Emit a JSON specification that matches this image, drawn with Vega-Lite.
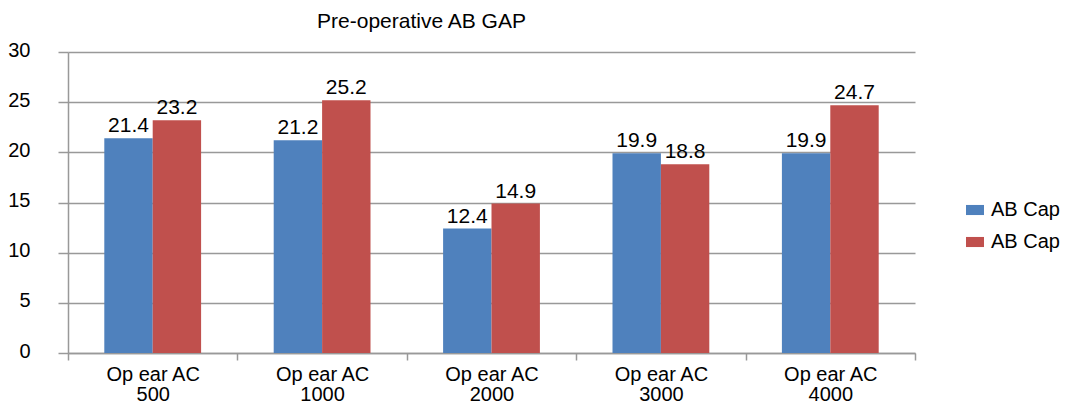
{
  "$schema": "https://vega.github.io/schema/vega-lite/v6.json",
  "autosize": {"type": "none"},
  "padding": {"left": 68, "top": 52, "right": 155, "bottom": 56},
  "width": 847,
  "height": 301,
  "background": "white",
  "title": {
    "text": "Pre-operative AB GAP",
    "font": "Liberation Sans",
    "fontSize": 21,
    "fontWeight": "normal",
    "color": "black",
    "anchor": "middle",
    "frame": "group",
    "dx": -70,
    "offset": 8
  },
  "config": {
    "view": {"stroke": null},
    "text": {"font": "Liberation Sans"}
  },
  "data": {
    "values": [
      {"freq": "500", "series": "a", "value": 21.4},
      {"freq": "500", "series": "b", "value": 23.2},
      {"freq": "1000", "series": "a", "value": 21.2},
      {"freq": "1000", "series": "b", "value": 25.2},
      {"freq": "2000", "series": "a", "value": 12.4},
      {"freq": "2000", "series": "b", "value": 14.9},
      {"freq": "3000", "series": "a", "value": 19.9},
      {"freq": "3000", "series": "b", "value": 18.8},
      {"freq": "4000", "series": "a", "value": 19.9},
      {"freq": "4000", "series": "b", "value": 24.7}
    ]
  },
  "encoding": {
    "x": {
      "field": "freq",
      "type": "nominal",
      "sort": ["500", "1000", "2000", "3000", "4000"],
      "scale": {"paddingInner": 0, "paddingOuter": 0},
      "axis": {
        "title": null,
        "labelAngle": 0,
        "labelExpr": "datum.label ? ['Op ear AC', datum.label] : ''",
        "labelFont": "Liberation Sans",
        "labelFontSize": 20,
        "labelColor": "black",
        "labelLineHeight": 20,
        "labelPadding": 4,
        "tickBand": "extent",
        "tickSize": 7,
        "tickColor": "#999999",
        "tickWidth": 1.5,
        "domainColor": "#999999",
        "domainWidth": 1.5,
        "grid": false
      }
    },
    "xOffset": {
      "field": "series",
      "type": "nominal",
      "scale": {"paddingInner": 0, "paddingOuter": 0.75}
    },
    "y": {
      "field": "value",
      "type": "quantitative",
      "scale": {"domain": [0, 30]},
      "axis": {
        "title": null,
        "values": [0, 5, 10, 15, 20, 25, 30],
        "labelFont": "Liberation Sans",
        "labelFontSize": 20,
        "labelColor": "black",
        "labelPadding": 28,
        "labelOffset": -2,
        "tickSize": 10,
        "tickColor": "#999999",
        "tickWidth": 1.5,
        "domainColor": "#999999",
        "domainWidth": 1.5,
        "grid": true,
        "gridColor": "#999999",
        "gridWidth": 1.5
      }
    }
  },
  "layer": [
    {
      "mark": {"type": "bar"},
      "encoding": {
        "color": {
          "field": "series",
          "type": "nominal",
          "scale": {"domain": ["a", "b"], "range": ["#4F81BD", "#C0504D"]},
          "legend": {
            "title": null,
            "orient": "none",
            "legendX": 897,
            "legendY": 148,
            "labelExpr": "'AB Cap'",
            "labelFont": "Liberation Sans",
            "labelFontSize": 20,
            "labelColor": "black",
            "labelOffset": 6,
            "rowPadding": 12,
            "symbolType": "M-1,-0.56H1V0.56H-1Z",
            "symbolSize": 324,
            "symbolStrokeWidth": 0,
            "padding": 0
          }
        }
      }
    },
    {
      "mark": {"type": "text", "baseline": "alphabetic", "dy": -6, "fontSize": 21, "color": "black"},
      "encoding": {
        "text": {"field": "value", "type": "quantitative", "format": ".1f"}
      }
    }
  ]
}
